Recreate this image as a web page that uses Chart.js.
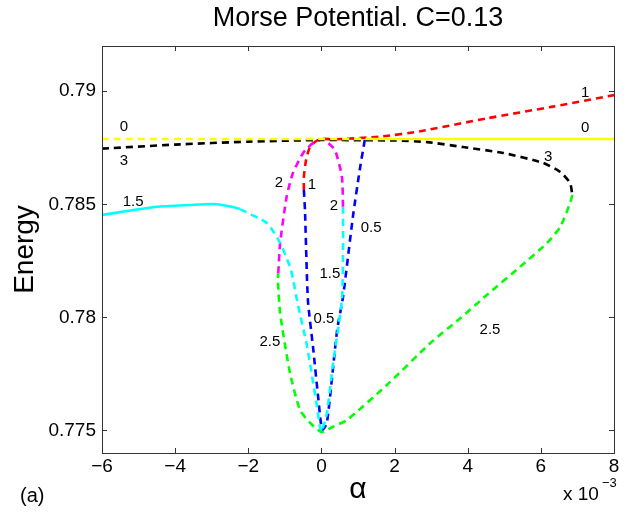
<!DOCTYPE html>
<html>
<head>
<meta charset="utf-8">
<script src="https://cdn.jsdelivr.net/npm/chart.js@4.4.1/dist/chart.umd.min.js"></script>
<style>
  html, body { margin: 0; padding: 0; background: #fff; }
</style>
</head>
<body>
<canvas id="morseChart" width="632" height="515"></canvas>
<script>
// axis ticks (alpha in units of 1e-3)
const xTicks = [-6, -4, -2, 0, 2, 4, 6, 8];
const xTickLabels = ["\u22126", "\u22124", "\u22122", "0", "2", "4", "6", "8"];
const yTicks = [0.775, 0.78, 0.785, 0.79];
const yTickLabels = ["0.775", "0.78", "0.785", "0.79"];

// branch "0" (yellow)
const yellowDashX = [-6, 1.2];
const yellowDashY = [0.78789, 0.78789];
const yellowSolidX = [1.2, 8];
const yellowSolidY = [0.78789, 0.78789];

// branch "3" (black)
const blackX = [-6, -4, -2, 0, 2, 2.9, 3.87, 4.97, 6.06, 6.53, 6.8, 6.86];
const blackY = [0.78746, 0.78764, 0.78777, 0.78784, 0.78782, 0.78775, 0.78753, 0.78727, 0.78683, 0.78643, 0.78594, 0.78541];

// branch "2.5" (green)
const greenX = [6.86, 6.8, 6.53, 6.17, 5.43, 4.53, 3.79, 2.97, 1.83, 0.7, 0.3, 0, -0.31, -0.585, -0.86, -1.13, -1.19, -1.18];
const greenY = [0.78541, 0.78506, 0.784, 0.78329, 0.78223, 0.781, 0.77995, 0.77885, 0.77707, 0.77546, 0.77515, 0.77493, 0.77533, 0.7759, 0.77754, 0.78019, 0.78165, 0.78195];

// branch "2" (magenta)
const magentaX = [-1.18, -1.13, -0.95, -0.78, -0.5, -0.23, 0.04, 0.14, 0.37, 0.56, 0.59];
const magentaY = [0.78195, 0.78327, 0.78534, 0.78638, 0.78727, 0.78771, 0.78789, 0.78777, 0.7874, 0.78622, 0.78488];

// branch "1.5" (cyan)
const cyanDashX = [0.59, 0.59, 0.56, 0.32, 0.15, 0, -0.04, -0.12, -0.39, -0.67, -0.77, -0.86, -1.13, -1.49, -2.23];
const cyanDashY = [0.78488, 0.78298, 0.78077, 0.77798, 0.77577, 0.77493, 0.77515, 0.77603, 0.77869, 0.78077, 0.78165, 0.78223, 0.78329, 0.78417, 0.78479];
const cyanSolidX = [-6, -4.5, -3.59, -2.96, -2.42, -2.23];
const cyanSolidY = [0.78453, 0.78489, 0.78497, 0.78501, 0.78488, 0.78479];

// branch "1" (red)
const redX = [-0.48, -0.48, -0.42, -0.31, -0.13, 0.04, 0.32, 1.6, 2.7, 4.52, 6.33, 8];
const redY = [0.78563, 0.78622, 0.78696, 0.78755, 0.78781, 0.78789, 0.78787, 0.78799, 0.78823, 0.7888, 0.78932, 0.78983];

// branch "0.5" (blue)
const blueX = [-0.48, -0.45, -0.37, -0.23, -0.09, 0.02, 0.15, 0.43, 0.59, 0.86, 1.06, 1.19];
const blueY = [0.78563, 0.78475, 0.78077, 0.77869, 0.77648, 0.77502, 0.77533, 0.77944, 0.7809, 0.78444, 0.78665, 0.78789];

// curve labels
const labelTexts = ["0", "3", "1.5", "2", "1", "2", "0.5", "1.5", "0.5", "2.5", "2.5", "3", "1", "0"];
const labelX = [-5.4, -5.4, -5.15, -1.16, -0.26, 0.34, 1.36, 0.23, 0.07, -1.41, 4.61, 6.2, 7.21, 7.21];
const labelY = [0.78842, 0.78691, 0.7851, 0.78594, 0.78585, 0.78492, 0.78395, 0.78192, 0.77993, 0.77891, 0.77944, 0.78709, 0.78992, 0.78837];

const fontFamily = "'Liberation Sans', Arial, Helvetica, sans-serif";
Chart.defaults.font.family = fontFamily;
Chart.defaults.color = "#000";

const toPoints = (xs, ys) => xs.map((x, i) => ({ x: x, y: ys[i] }));

const curve = (xs, ys, color, dashed) => ({
  data: toPoints(xs, ys),
  borderColor: color,
  borderWidth: 2.6,
  borderDash: dashed ? [7, 5] : [],
  showLine: true,
  pointRadius: 0,
  tension: 0.2,
  fill: false,
});

const frameAndLabels = {
  id: "frameAndLabels",
  afterDatasetsDraw(chart) {
    const { ctx, chartArea, scales } = chart;
    const { left, right, top, bottom } = chartArea;
    ctx.save();
    ctx.strokeStyle = "#333";
    ctx.lineWidth = 1;
    ctx.strokeRect(Math.round(left) + 0.5, Math.round(top) + 0.5, Math.round(right - left), Math.round(bottom - top));

    // inward ticks on all four sides
    ctx.beginPath();
    xTicks.forEach((v) => {
      const px = Math.round(scales.x.getPixelForValue(v)) + 0.5;
      ctx.moveTo(px, bottom);
      ctx.lineTo(px, bottom - 5);
      ctx.moveTo(px, top);
      ctx.lineTo(px, top + 5);
    });
    yTicks.forEach((v) => {
      const py = Math.round(scales.y.getPixelForValue(v)) + 0.5;
      ctx.moveTo(left, py);
      ctx.lineTo(left + 5, py);
      ctx.moveTo(right, py);
      ctx.lineTo(right - 5, py);
    });
    ctx.stroke();

    // curve labels
    ctx.fillStyle = "#000";
    ctx.font = "15px " + fontFamily;
    ctx.textAlign = "center";
    ctx.textBaseline = "middle";
    labelTexts.forEach((t, i) => {
      ctx.fillText(t, scales.x.getPixelForValue(labelX[i]), scales.y.getPixelForValue(labelY[i]));
    });

    // panel tag and exponent
    ctx.textAlign = "left";
    ctx.textBaseline = "alphabetic";
    ctx.font = "20px " + fontFamily;
    ctx.fillText("(a)", 20, 502);
    ctx.font = "19px " + fontFamily;
    ctx.fillText("x 10", 563, 500);
    ctx.font = "13px " + fontFamily;
    ctx.fillText("\u22123", 602, 487);
    ctx.restore();
  },
};

const ctx = document.getElementById("morseChart").getContext("2d");
const morseChart = new Chart(ctx, {
  type: "scatter",
  data: {
    datasets: [
      curve(yellowDashX, yellowDashY, "#ffff00", true),
      curve(yellowSolidX, yellowSolidY, "#ffff00", false),
      curve(blackX, blackY, "#000000", true),
      curve(greenX, greenY, "#00ff00", true),
      curve(cyanDashX, cyanDashY, "#00ffff", true),
      curve(cyanSolidX, cyanSolidY, "#00ffff", false),
      curve(magentaX, magentaY, "#ff00ff", true),
      curve(blueX, blueY, "#0000ff", true),
      curve(redX, redY, "#ff0000", true),
    ],
  },
  options: {
    responsive: false,
    animation: false,
    layout: { padding: { left: 0, right: 18, top: 0, bottom: 0 } },
    plugins: {
      legend: { display: false },
      tooltip: { enabled: false },
      title: {
        display: true,
        fullSize: false,
        text: "Morse Potential. C=0.13",
        color: "#000",
        font: { size: 27, weight: "normal" },
        padding: { top: 2.8, bottom: 10.8 },
      },
    },
    scales: {
      x: {
        type: "linear",
        min: -6,
        max: 8,
        afterBuildTicks: (scale) => {
          scale.ticks = xTicks.map((v) => ({ value: v }));
        },
        afterFit: (scale) => {
          scale.height = 62;
        },
        grid: { display: false, drawTicks: false },
        border: { display: false },
        ticks: {
          font: { size: 19 },
          color: "#000",
          padding: 2,
          maxRotation: 0,
          autoSkip: false,
          callback: (v) => xTickLabels[xTicks.indexOf(v)],
        },
        title: {
          display: true,
          text: "\u03b1",
          color: "#000",
          font: { size: 30 },
          padding: { top: 0, bottom: 7.5 },
        },
      },
      y: {
        type: "linear",
        min: 0.774,
        max: 0.792,
        afterBuildTicks: (scale) => {
          scale.ticks = yTicks.map((v) => ({ value: v }));
        },
        afterFit: (scale) => {
          scale.width = 102;
        },
        grid: { display: false, drawTicks: false },
        border: { display: false },
        ticks: {
          font: { size: 19 },
          color: "#000",
          padding: 6,
          autoSkip: false,
          callback: (v) => yTickLabels[yTicks.indexOf(v)],
        },
        title: {
          display: true,
          text: "Energy",
          color: "#000",
          font: { size: 28 },
          padding: { top: 8.4, bottom: 0 },
        },
      },
    },
  },
  plugins: [frameAndLabels],
});
</script>
</body>
</html>
